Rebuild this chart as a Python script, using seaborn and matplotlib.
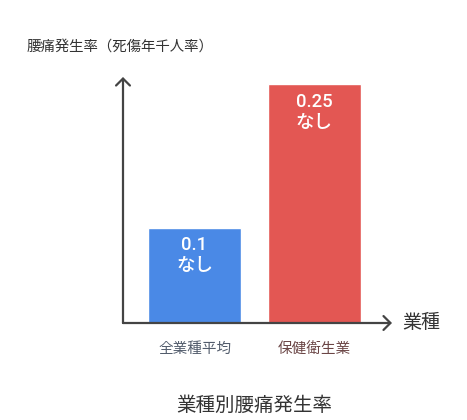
import matplotlib
matplotlib.use("Agg")
import matplotlib.pyplot as plt
import seaborn as sns

categories = ["全業種平均", "保健衛生業"]
values = [0.1, 0.25]
notes = ["なし", "なし"]
bar_colors = ["#4a89e6", "#e35753"]
tick_colors = ["#525c6c", "#6b4646"]

sns.set_style("white")
plt.rcParams["font.family"] = ["Noto Sans CJK JP", "DejaVu Sans"]

fig = plt.figure(figsize=(4.67, 4.2), dpi=100)
ax = fig.add_axes([123 / 467, 1 - 323 / 420, (392 - 123) / 467, (323 - 77) / 420])

sns.barplot(x=categories, y=values, hue=categories, palette=bar_colors,
            width=0.775, legend=False, saturation=1, ax=ax)

ax.set_xlim(-0.596, 1.646)
ax.set_ylim(0, 0.2576)
for s in ax.spines.values():
    s.set_visible(False)
ax.set_yticks([])
ax.tick_params(axis="x", length=0, pad=14)
ax.set_xlabel("")
ax.set_ylabel("")
for lbl, c in zip(ax.get_xticklabels(), tick_colors):
    lbl.set_color(c)
    lbl.set_fontsize(10.5)

# value labels inside the bars
for i, (v, n) in enumerate(zip(values, notes)):
    ax.annotate(f"{v:g}\n{n}", xy=(i, v), xytext=(0, -6), textcoords="offset points",
                ha="center", va="top", color="white", fontsize=13.3,
                fontweight="medium", linespacing=1.22,
                family=["Roboto", "Noto Sans CJK JP"])

arrow = dict(arrowstyle="->,head_length=0.5,head_width=0.5", lw=1.6, color="#444444",
             shrinkA=0, shrinkB=0)
ax.annotate("", xy=(0, 1), xytext=(0, 0), xycoords="axes fraction", arrowprops=arrow,
            annotation_clip=False)
ax.annotate("", xy=(1, 0), xytext=(0, 0), xycoords="axes fraction", arrowprops=arrow,
            annotation_clip=False)

fig.text(27 / 467, 1 - 47 / 420, "腰痛発生率（死傷年千人率）", ha="left", va="center",
         fontsize=10.4, color="#333333")
fig.text(402 / 467, 1 - 322 / 420, "業種", ha="left", va="center",
         fontsize=13.7, color="#333333")
fig.text(254.5 / 467, 1 - 405 / 420, "業種別腰痛発生率", ha="center", va="center",
         fontsize=14, color="#333333")

fig.savefig("out.png", dpi=100)
